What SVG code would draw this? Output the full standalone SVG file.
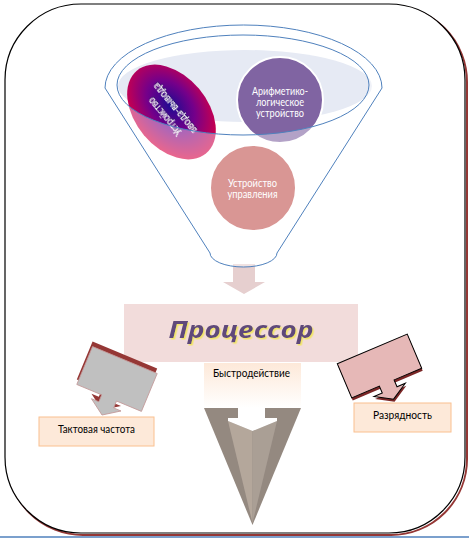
<svg xmlns="http://www.w3.org/2000/svg" width="469" height="538" viewBox="0 0 469 538">
<defs>
<style>
.lbl{font-family:Lato,"Noto Sans","Liberation Sans",sans-serif;font-size:11px;fill:#000;text-anchor:middle}
.wt{font-family:Lato,"Noto Sans","Liberation Sans",sans-serif;font-size:10.5px;fill:#fff;text-anchor:middle}
.peach{fill:#fde9d9;stroke:#fac08f;stroke-width:1}
.blue{fill:none;stroke:#4f81bd;stroke-width:1}
</style>
<radialGradient id="gio" cx="0.45" cy="0.45" r="0.6">
<stop offset="0" stop-color="#1e0a92"/>
<stop offset="0.45" stop-color="#74008a"/>
<stop offset="1" stop-color="#e6003a"/>
</radialGradient>
<linearGradient id="gspeed" x1="0" y1="0" x2="0" y2="1">
<stop offset="0" stop-color="#fde9d9"/>
<stop offset="1" stop-color="#ffffff"/>
</linearGradient>
<filter id="yshadow" x="-10%" y="-20%" width="120%" height="140%">
<feDropShadow dx="1.5" dy="1.5" stdDeviation="0.4" flood-color="#f2e56a"/>
</filter>
<filter id="dshadow" x="-20%" y="-40%" width="140%" height="180%">
<feDropShadow dx="0.8" dy="0.8" stdDeviation="0.4" flood-color="#2a1a6a"/>
</filter>
</defs>

<g id="frame">
<rect x="7" y="6" width="460" height="529" rx="76" fill="none" stroke="#953735" stroke-width="2"/>
<rect x="5" y="4" width="460" height="529" rx="76" fill="#fff" stroke="#000" stroke-width="1.2"/>
<line x1="0" y1="537" x2="469" y2="537" stroke="#4f81bd" stroke-width="1.5"/>
</g>

<g id="connectors">
<polygon points="233,264 255,264 255,282 265,282 244,294 223,282 233,282" fill="#e6cfcf"/>
</g>

<g id="funnel">
<ellipse cx="245" cy="86" rx="127" ry="36" fill="#e6eaf4"/>
</g>

<g id="node-io">
<ellipse cx="0" cy="0" rx="54" ry="36" transform="translate(171.5,112) rotate(50)" fill="url(#gio)"/>
<g transform="translate(170,112.5) rotate(230)" filter="url(#dshadow)">
<text class="wt" x="0" y="-3" font-size="10" fill="#f2eeff" textLength="46" lengthAdjust="spacingAndGlyphs">Устройство</text>
<text class="wt" x="0" y="10" font-size="10" fill="#f2eeff" textLength="62" lengthAdjust="spacingAndGlyphs">ввода-вывода</text>
</g>
</g>

<g id="node-alu">
<circle cx="280" cy="100" r="43" fill="#8064a2" stroke="#fff" stroke-width="2"/>
<text class="wt" x="280" y="94.5" textLength="56" lengthAdjust="spacingAndGlyphs">Арифметико-</text>
<text class="wt" x="280" y="105.5" textLength="48" lengthAdjust="spacingAndGlyphs">логическое</text>
<text class="wt" x="280" y="116.5" textLength="48" lengthAdjust="spacingAndGlyphs">устройство</text>
</g>

<g id="node-cu">
<circle cx="253" cy="188" r="43" fill="#c0504d" stroke="#fff" stroke-width="2"/>
<text class="wt" x="252.5" y="186.5" textLength="49" lengthAdjust="spacingAndGlyphs">Устройство</text>
<text class="wt" x="252.5" y="197.5" textLength="50" lengthAdjust="spacingAndGlyphs">управления</text>
</g>

<g id="funnel-body">
<path d="M105,88 A138.5,63 0 0 1 382,88 L277,253 A33.5,14 0 0 1 210,253 Z M117,85 A126,50 0 1 0 369,85 A126,50 0 1 0 117,85 Z" fill="#fff" fill-opacity="0.4" fill-rule="evenodd"/>
<path class="blue" d="M105,88 A138.5,63 0 0 1 382,88 L277,253 A33.5,14 0 0 1 210,253 Z"/>
<ellipse class="blue" cx="243" cy="85" rx="126" ry="50"/>
</g>

<g id="node-processor">
<rect x="124" y="304" width="234" height="58" fill="#f2dcdb"/>
<text x="241" y="338" text-anchor="middle" font-family="'Open Sans','Noto Sans','Liberation Sans',sans-serif" font-size="24" font-weight="bold" font-style="italic" fill="#5f497a" filter="url(#yshadow)" textLength="145" lengthAdjust="spacingAndGlyphs">Процессор</text>
</g>

<g id="node-speed">
<rect x="204" y="363" width="97" height="45" fill="url(#gspeed)"/>
<text class="lbl" x="251.5" y="377" textLength="77" lengthAdjust="spacingAndGlyphs">Быстродействие</text>
</g>

<g id="connectors-2">
<polygon points="204,408 301,408 252.5,525" fill="#948980"/>
<polygon points="228,421 252.5,431 252.5,523" fill="#b4a79b"/>
<polygon points="277,421 252.5,431 252.5,523" fill="#aa9f95"/>
<polygon points="238,408 265,408 265,418 277,418 277,421 252.5,431 228,421 228,418 238,418" fill="#fff"/>
<g transform="translate(117,374) rotate(22.6)">
<path d="M-35,-20.5 H35 V20.5 H8 V28 H16 L0,39 L-16,28 H-8 V20.5 H-35 Z" fill="#953735"/>
</g>
<g transform="translate(117,379) rotate(22.6)">
<path d="M-35,-20.5 H35 V20.5 H8 V28 H16 L0,39 L-16,28 H-8 V20.5 H-35 Z" fill="#c0c0c0" stroke="#c49a9a" stroke-width="0.8"/>
</g>
<g transform="translate(380.5,368.5) rotate(-23)">
<path d="M-38,-18.5 H38 V18.5 H8 V26 H17 L0,36 L-17,26 H-8 V18.5 H-38 Z" fill="#7a2626"/>
</g>
<g transform="translate(379.5,366) rotate(-23)">
<path d="M-38,-18.5 H38 V18.5 H8 V26 H17 L0,36 L-17,26 H-8 V18.5 H-38 Z" fill="#e6b8b7" stroke="#000" stroke-width="1"/>
</g>
</g>

<g id="node-clock">
<rect class="peach" x="39" y="417" width="115" height="29"/>
<text class="lbl" x="96.5" y="433" textLength="77" lengthAdjust="spacingAndGlyphs">Тактовая частота</text>
</g>

<g id="node-bits">
<rect class="peach" x="354" y="403" width="97" height="29"/>
<text class="lbl" x="402.5" y="419" textLength="59" lengthAdjust="spacingAndGlyphs">Разрядность</text>
</g>
</svg>
